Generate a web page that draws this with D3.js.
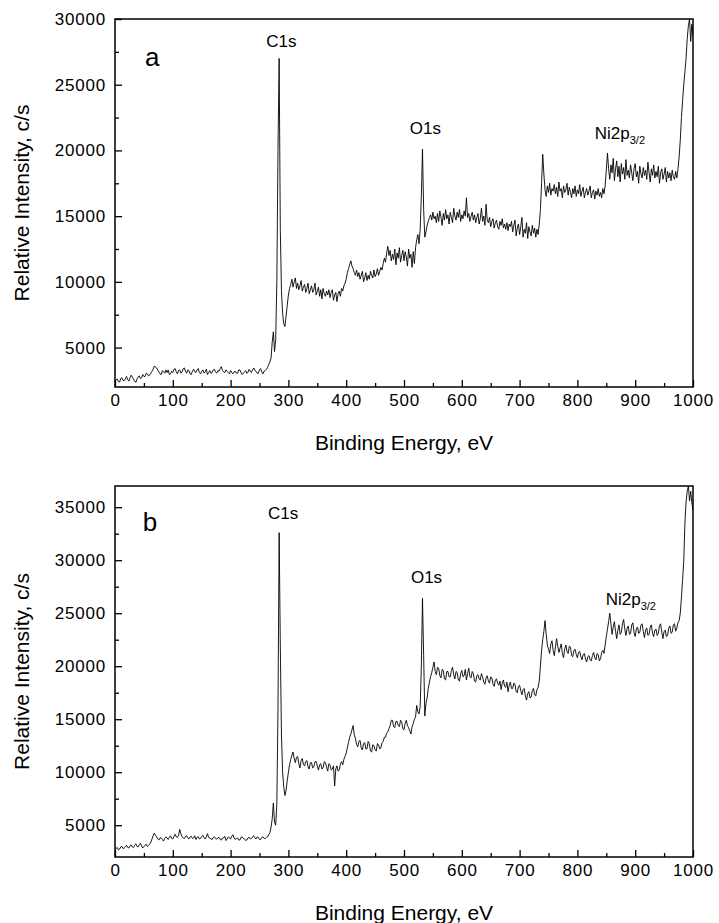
<!DOCTYPE html>
<html>
<head>
<meta charset="utf-8">
<script src="https://cdn.jsdelivr.net/npm/d3@7"></script>
<style>
  body { margin: 0; background: #fff; }
  text { font-family: "Liberation Sans", Arial, sans-serif; fill: #000; }
</style>
</head>
<body>
<script>
// XPS survey spectra, sampled every 2 eV from 0 to 1000 eV
const energies = d3.range(0, 1001, 2);

// panel a, intensity in c/s
const intensityA = [
  2450,2550,2600,2400,2380,2650,2700,2500,2480,2620,
  2800,2550,2450,2700,2900,2750,2600,2450,2350,2600,
  2750,2850,2650,2700,2950,2800,2800,3050,3000,2850,
  2900,3050,3200,3350,3600,3500,3450,3300,3150,3000,
  2950,3250,3150,3050,3300,3100,3300,2950,3000,3200,
  3100,3350,3400,3150,3000,3250,3300,3050,3150,3400,
  3450,3200,3050,3300,3250,3000,2950,3200,3350,3150,
  3100,3300,3400,3100,3000,3200,3300,3050,3150,3350,
  2950,3100,3250,3050,3100,3300,3350,3150,3050,3250,
  3200,3400,3550,3250,3150,3100,3300,3200,3100,3000,
  3250,3100,3000,3150,3200,3050,3050,3300,3300,3100,
  2950,3050,3150,3250,3050,3100,3350,3200,3100,3300,
  3450,3250,3200,3050,3050,3300,3400,3150,3000,3200,
  3250,3350,3500,3700,3900,4200,5400,6200,4700,5600,
  10000,20000,27000,14000,9300,7600,6800,6600,7400,8200,
  9000,9500,9800,10200,9600,10000,10300,9500,9900,9400,
  9700,10100,9300,9600,9800,9200,9500,9900,9100,9400,
  9700,9200,9400,9900,9000,9300,9600,8900,9400,8700,
  9500,9100,8900,9300,9000,9400,8800,9200,9400,8600,
  9000,9200,8500,9100,9300,8900,9500,9300,9700,9900,
  10200,10700,11000,11300,11600,11200,11000,10700,10500,10900,
  10400,10700,10200,10500,10800,10000,10300,10700,10100,10500,
  10200,10800,10500,10300,10900,10400,10600,11000,10500,10800,
  11100,10900,11400,11800,11500,12200,12700,12000,12400,11600,
  12100,11700,12500,11300,12200,11800,12600,11500,12000,12400,
  11600,12300,11900,11200,12500,11800,12100,11100,12300,11400,
  12600,13200,13600,12900,14000,16500,20100,15500,13400,13800,
  14300,14600,14900,15100,14700,15300,14800,15000,14500,15200,
  14600,15400,14900,14300,15200,14700,15500,14800,15100,14400,
  15300,14900,14500,15600,15000,14700,15300,14900,15500,14600,
  15100,14800,15400,15000,16400,14900,15200,14600,15000,15300,
  14700,15100,14500,14900,15200,14400,14800,15600,14600,15000,
  14300,15900,14700,14500,14900,14200,14600,14800,14100,14500,
  14700,14200,14000,14600,14300,14800,14100,14400,14000,14500,
  13900,14400,14200,14600,13800,14300,14700,13500,14100,14400,
  13600,14200,14900,13400,14000,13700,14500,13300,14200,13800,
  13500,14300,13700,14100,13400,14000,13600,14400,15500,17500,
  19700,18200,17000,16500,17300,16800,17500,16600,17100,16900,
  17400,16700,17200,16500,17600,16900,17100,16400,17300,16800,
  17000,17500,16600,17200,16800,16400,17100,16700,17300,16500,
  17000,16700,17400,16500,16900,17200,16400,16800,17100,16600,
  16900,17300,16400,16800,17000,16300,16900,16600,17100,16500,
  16800,16400,17100,16700,17300,18500,19800,18600,17800,18900,
  18300,19400,17700,18600,19200,18000,18800,17600,19000,18200,
  18700,17800,19300,18100,18500,17900,18900,18300,17700,18600,
  19000,18000,18400,17500,18800,18200,17900,18700,18100,18500,
  17800,19100,18300,17600,18600,18100,18900,17900,18400,18000,
  18800,17500,18300,18600,17800,18200,18700,17600,18400,17900,
  18300,17700,18500,18000,17800,18400,17900,18600,19500,20800,
  22500,23800,25000,26000,27000,28500,29500,30000,28300,29600,
  28700
];

// panel b, intensity in c/s
const intensityB = [
  2700,2800,2900,2650,2750,2950,3000,2800,2850,2950,
  3100,2900,2850,3050,3150,2950,2900,3100,3250,3000,
  2950,3150,3300,3050,2850,3000,3100,3200,3000,3100,
  3200,3400,3700,4000,4250,4050,3900,3700,3600,3800,
  3800,3650,3500,3750,3900,3800,3650,3850,4000,3750,
  3700,3950,4150,3900,3850,4050,4600,4200,3900,3800,
  3750,3950,4000,3800,3700,3900,3950,3750,3800,4000,
  3650,3850,3900,3700,3750,3950,4050,3800,3700,3900,
  4200,3850,3800,3700,3650,3850,3900,3750,3700,3800,
  3850,3650,3600,3800,3800,3950,3550,3700,3900,3800,
  3700,3950,4100,3800,3650,3750,3800,3600,3600,3850,
  3900,3750,3700,3550,3600,3800,3850,3700,3750,3900,
  4000,3800,3700,3900,3850,3650,3650,3850,3900,3750,
  3750,3850,3900,4100,4300,4800,5600,7100,5300,5000,
  7000,16000,32600,22000,13500,10000,8600,7800,8300,9200,
  10000,10700,11200,11600,11900,11300,10900,11400,11500,10800,
  10400,11100,11300,10700,10600,11000,11100,10500,10300,10900,
  10900,10400,10500,11000,11000,10600,10200,10700,10800,10300,
  10400,11000,10900,10500,10100,10800,10700,10200,10300,10600,
  8700,10300,10600,10100,10200,10800,11000,10700,11200,11500,
  11800,12300,12800,13300,13600,14000,14400,13500,13200,12600,
  12400,12900,13000,12300,12100,12700,12800,12200,12200,12900,
  12700,12000,11900,12600,12500,12100,12000,12700,12600,12200,
  12300,12800,12900,13300,13300,13700,13800,14100,14400,14900,
  14900,14300,14200,14800,14800,14400,14300,14900,14700,14100,
  14000,14600,14900,14400,14200,13900,13600,14300,14600,15000,
  15200,16300,15700,15500,16200,20000,26400,21000,15300,16500,
  17000,17900,18500,19000,19400,19900,20400,19500,19200,19900,
  19800,19100,18900,19700,19600,18800,18700,19500,19500,19000,
  19000,19600,19900,19200,18800,19500,19400,18700,18600,19300,
  19600,19000,19100,19700,18700,19300,19800,19000,18900,19500,
  19300,18600,18500,19100,19200,18800,18700,19300,19000,18500,
  18300,18900,19100,18600,18400,19000,18900,18300,18100,18700,
  18800,18400,18200,18600,17800,18400,18700,18100,18000,18500,
  17600,18200,18500,17900,17900,18400,18300,17600,17500,18100,
  18200,17700,17300,17800,17900,17200,16800,17400,17600,17000,
  17100,17700,17900,17300,17200,17800,18000,18600,20000,21500,
  22500,23300,24300,23000,22000,21600,21200,22100,22400,21500,
  21000,21800,22600,21900,21300,21700,22100,21200,20800,21600,
  22000,21400,21200,21900,21800,21000,20900,21500,21600,21100,
  20800,21300,21400,20900,20600,21100,21200,20700,20400,20900,
  21000,20600,20500,21000,21300,20800,20600,21200,21100,20500,
  20700,21300,21500,21200,22000,22800,23500,24200,25000,24000,
  23000,23700,24200,23300,22600,23400,23900,23000,23200,24000,
  24400,23500,22900,23600,23800,23000,23100,23900,24100,23200,
  22800,23500,23700,23100,23200,23900,24000,23300,22700,23400,
  23600,22900,23000,23700,23900,23100,22800,23400,23500,22900,
  23100,23800,24000,23200,22600,23300,23400,22800,22900,23600,
  23800,23100,23200,23900,24000,23300,23600,24100,24300,25000,
  26500,28200,29900,33500,35500,36500,37000,35600,36500,35400,
  34700
];

const xTicks = [0, 100, 200, 300, 400, 500, 600, 700, 800, 900, 1000];
const xMinorTicks = [50, 150, 250, 350, 450, 550, 650, 750, 850, 950];
const yTicksA = [5000, 10000, 15000, 20000, 25000, 30000];
const yMinorTicksA = [7500, 12500, 17500, 22500, 27500];
const yTicksB = [5000, 10000, 15000, 20000, 25000, 30000, 35000];
const yMinorTicksB = [7500, 12500, 17500, 22500, 27500, 32500];

// peak annotations, [label, energy, intensity]
const peaksA = [["C1s", 288, 27880], ["O1s", 537, 21240], ["Ni2p", 830, 20850]];
const peaksB = [["C1s", 291, 33840], ["O1s", 539, 27860], ["Ni2p", 849, 25760]];

const W = 719, H = 923;
const svg = d3.select('body').append('svg')
  .attr('width', W)
  .attr('height', H);

const left = 115, right = 693;

function drawPanel(opts) {
  const x = d3.scaleLinear().domain([0, 1000]).range([left, right]);
  const y = d3.scaleLinear().domain(opts.yDomain).range([opts.bottom, opts.top]);
  const g = svg.append('g');

  const clipId = 'clip-' + opts.letter;
  g.append('clipPath').attr('id', clipId)
    .append('rect')
      .attr('x', left).attr('y', opts.top)
      .attr('width', right - left).attr('height', opts.bottom - opts.top);

  const points = energies.map((e, i) => [e, opts.data[i]]);
  const line = d3.line().x(d => x(d[0])).y(d => y(d[1]));
  g.append('path')
    .datum(points)
    .attr('clip-path', `url(#${clipId})`)
    .attr('fill', 'none')
    .attr('stroke', '#000')
    .attr('stroke-width', 0.9)
    .attr('stroke-linejoin', 'round')
    .attr('d', line);

  // minor ticks
  const xMinor = g.append('g')
    .attr('transform', `translate(0, ${opts.bottom})`)
    .call(d3.axisBottom(x).tickValues(xMinorTicks).tickSize(-4).tickFormat(''));
  const yMinor = g.append('g')
    .attr('transform', `translate(${left}, 0)`)
    .call(d3.axisLeft(y).tickValues(opts.yMinor).tickSize(-4).tickFormat(''));

  const xAxis = g.append('g')
    .attr('transform', `translate(0, ${opts.bottom})`)
    .call(d3.axisBottom(x).tickValues(xTicks).tickSize(-7).tickPadding(7).tickFormat(d3.format('d')));
  const yAxis = g.append('g')
    .attr('transform', `translate(${left}, 0)`)
    .call(d3.axisLeft(y).tickValues(opts.yTicks).tickSize(-7).tickPadding(9).tickFormat(d3.format('d')));

  [xMinor, yMinor, xAxis, yAxis].forEach(a => {
    a.select('.domain').remove();
    a.selectAll('line').attr('stroke', '#000').attr('stroke-width', 1.3);
  });
  [xAxis, yAxis].forEach(a => {
    a.selectAll('text')
      .style('font-family', '"Liberation Sans", Arial, sans-serif')
      .style('font-size', '17px')
      .style('letter-spacing', '0.8px')
      .attr('fill', '#000');
  });

  // frame
  g.append('rect')
    .attr('x', left).attr('y', opts.top)
    .attr('width', right - left).attr('height', opts.bottom - opts.top)
    .attr('fill', 'none')
    .attr('stroke', '#000')
    .attr('stroke-width', 1.5);

  // axis titles
  g.append('text')
    .attr('x', (left + right) / 2)
    .attr('y', opts.bottom + 63)
    .attr('text-anchor', 'middle')
    .style('font-size', '21px')
    .text('Binding Energy, eV');

  g.append('text')
    .attr('transform', `translate(29, ${(opts.top + opts.bottom) / 2}) rotate(-90)`)
    .attr('text-anchor', 'middle')
    .style('font-size', '21px')
    .text('Relative Intensity, c/s');

  // panel letter
  g.append('text')
    .attr('x', x(opts.letterPos[0]))
    .attr('y', y(opts.letterPos[1]))
    .style('font-size', '26px')
    .text(opts.letter);

  // peak labels
  opts.peaks.forEach(([label, e, v]) => {
    if (label === 'Ni2p') {
      const t = g.append('text')
        .attr('x', x(e)).attr('y', y(v))
        .style('font-size', '17px');
      t.append('tspan').text('Ni2p');
      t.append('tspan').attr('dy', 5).style('font-size', '11px').text('3/2');
    } else {
      g.append('text')
        .attr('x', x(e)).attr('y', y(v))
        .attr('text-anchor', 'middle')
        .style('font-size', '17px')
        .text(label);
    }
  });
}

drawPanel({
  data: intensityA, letter: 'a', letterPos: [52, 26430],
  yDomain: [2000, 30000], top: 19, bottom: 387,
  yTicks: yTicksA, yMinor: yMinorTicksA, peaks: peaksA
});

drawPanel({
  data: intensityB, letter: 'b', letterPos: [48, 32800],
  yDomain: [2000, 37000], top: 486, bottom: 857,
  yTicks: yTicksB, yMinor: yMinorTicksB, peaks: peaksB
});
</script>
</body>
</html>
